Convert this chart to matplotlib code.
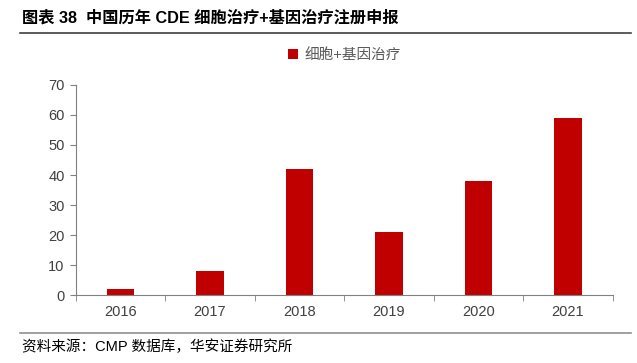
import matplotlib.pyplot as plt
from matplotlib.lines import Line2D

plt.rcParams['font.family'] = ['Liberation Sans', 'Noto Sans CJK SC', 'DejaVu Sans']

years = ['2016', '2017', '2018', '2019', '2020', '2021']
counts = [2, 8, 42, 21, 38, 59]
series_name = '细胞+基因治疗'
title = '图表 38  中国历年 CDE 细胞治疗+基因治疗注册申报'
source = '资料来源：CMP 数据库，华安证券研究所'

fig = plt.figure(figsize=(6.37, 3.63), dpi=100)
ax = fig.add_axes([0.119, 0.187, 0.843, 0.579])

x = list(range(len(years)))
ax.bar(x, counts, width=0.31, color='#C00000', label=series_name, zorder=2)

ax.set_xlim(-0.5, len(years) - 0.5)
ax.set_ylim(0, 70)
ax.set_yticks(range(0, 71, 10))
ax.set_xticks(x)
ax.set_xticklabels(years)
ax.set_xticks([i + 0.5 for i in range(-1, len(years))], minor=True)
ax.tick_params(axis='x', which='major', length=0, pad=7, labelsize=10.5, labelcolor='#404040')
ax.tick_params(axis='x', which='minor', length=4, direction='out', color='#808080')
ax.tick_params(axis='y', length=4, direction='out', color='#808080', labelsize=10.5,
               labelcolor='#404040', pad=4)
for s in ['top', 'right']:
    ax.spines[s].set_visible(False)
for s in ['left', 'bottom']:
    ax.spines[s].set_color('#808080')
    ax.spines[s].set_linewidth(0.8)

leg = ax.legend(loc='center', bbox_to_anchor=(0.5, 1.143), frameon=False,
                handlelength=0.7, handleheight=0.7, handletextpad=0.4, fontsize=10.5)
for t in leg.get_texts():
    t.set_color('#595959')

fig.text(0.035, 0.95, title, fontsize=11.7, fontweight='bold', va='center', color='#000000')
fig.add_artist(Line2D([0.031, 0.99], [0.909, 0.909], color='#404040', linewidth=1.2))
fig.add_artist(Line2D([0.031, 0.99], [0.083, 0.083], color='#909090', linewidth=1.2))
fig.text(0.035, 0.044, source, fontsize=10.5, va='center', color='#000000')

fig.savefig('out.png', dpi=100)
